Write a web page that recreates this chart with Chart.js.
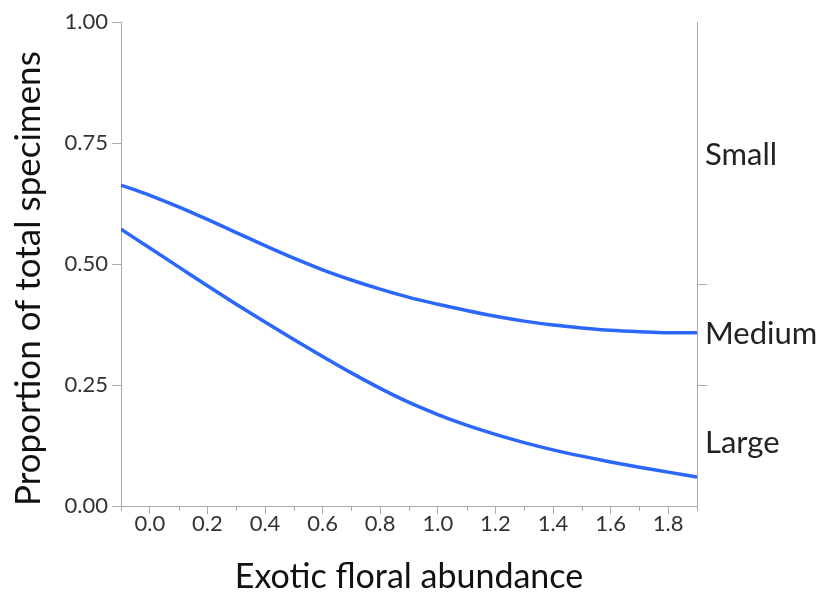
<!DOCTYPE html>
<html>
<head>
<meta charset="utf-8">
<script src="https://cdn.jsdelivr.net/npm/chart.js@4.4.1/dist/chart.umd.min.js"></script>
<style>
  html, body { margin: 0; padding: 0; background: #fff; }
  #wrap { width: 817px; height: 592px; }
</style>
</head>
<body>
<div id="wrap"><canvas id="chart"></canvas></div>
<script>
// exotic floral abundance (x) and the two cumulative proportion curves
const abundance = [-0.1, 0.0, 0.1, 0.2, 0.3, 0.4, 0.5, 0.6, 0.7, 0.8, 0.9,
                   1.0, 1.1, 1.2, 1.3, 1.4, 1.5, 1.6, 1.7, 1.8, 1.9];
const upperCurve = [0.663, 0.642, 0.618, 0.592, 0.565, 0.538, 0.512, 0.488, 0.467, 0.448, 0.431,
                    0.417, 0.404, 0.392, 0.382, 0.374, 0.368, 0.363, 0.360, 0.358, 0.358];
const lowerCurve = [0.572, 0.533, 0.494, 0.455, 0.417, 0.380, 0.344, 0.309, 0.275, 0.243, 0.214,
                    0.189, 0.167, 0.148, 0.131, 0.116, 0.103, 0.091, 0.080, 0.070, 0.060];

const xTicks = [0.0, 0.2, 0.4, 0.6, 0.8, 1.0, 1.2, 1.4, 1.6, 1.8];
const xMinorTicks = [-0.1, 0.1, 0.3, 0.5, 0.7, 0.9, 1.1, 1.3, 1.5, 1.7, 1.9];
const yTicks = [0, 0.25, 0.5, 0.75, 1.0];

// size classes on the right axis
const sizeLabels = ['Small', 'Medium', 'Large'];
const sizeLabelAt = [0.725, 0.355, 0.13];
const sizeBreaks = [0.457, 0.25];

const axisGray = '#aaaaaa';
const blue = '#2b67fb';
const fontFam = 'Lato, "Open Sans", sans-serif';

const toPoints = (ys) => abundance.map((x, i) => ({ x: x, y: ys[i] }));

// short minor ticks under the x axis
const minorTicks = {
  id: 'minorTicks',
  afterDraw(chart) {
    const sx = chart.scales.x;
    const c = chart.ctx;
    c.save();
    c.strokeStyle = axisGray;
    c.lineWidth = 1;
    xMinorTicks.forEach((v) => {
      const px = Math.round(sx.getPixelForValue(v)) + 0.5;
      c.beginPath();
      c.moveTo(px, sx.top);
      c.lineTo(px, sx.top + 5);
      c.stroke();
    });
    c.restore();
  }
};

const rightTicks = sizeLabelAt.map((v, i) => ({ value: v, label: sizeLabels[i] }))
  .concat(sizeBreaks.map((v) => ({ value: v, label: '' })));

new Chart(document.getElementById('chart'), {
  type: 'line',
  data: {
    datasets: [
      { data: toPoints(upperCurve), borderColor: blue, borderWidth: 3.5, pointRadius: 0, cubicInterpolationMode: 'monotone', fill: false },
      { data: toPoints(lowerCurve), borderColor: blue, borderWidth: 3.5, pointRadius: 0, cubicInterpolationMode: 'monotone', fill: false }
    ]
  },
  options: {
    responsive: true,
    maintainAspectRatio: false,
    animation: false,
    layout: { padding: { top: 22, left: 0, right: 0, bottom: 0 } },
    plugins: { legend: { display: false }, tooltip: { enabled: false } },
    scales: {
      x: {
        type: 'linear',
        min: -0.1,
        max: 1.9,
        afterBuildTicks: (scale) => { scale.ticks = xTicks.map((v) => ({ value: v })); },
        afterFit: (scale) => { scale.height = 86; },
        border: { color: axisGray, width: 1 },
        grid: { drawOnChartArea: false, color: axisGray, tickLength: 8 },
        ticks: {
          color: '#333',
          font: { family: fontFam, size: 22 },
          padding: -3,
          maxRotation: 0,
          callback: (v) => Number(v).toFixed(1)
        },
        title: {
          display: true,
          text: 'Exotic floral abundance',
          color: '#111',
          font: { family: fontFam, size: 34, lineHeight: 1 },
          padding: { top: 0, bottom: -2 }
        }
      },
      y: {
        position: 'left',
        min: 0,
        max: 1,
        afterBuildTicks: (scale) => { scale.ticks = yTicks.map((v) => ({ value: v })); },
        afterFit: (scale) => { scale.width = 121; },
        border: { color: axisGray, width: 1 },
        grid: { drawOnChartArea: false, color: axisGray, tickLength: 9 },
        ticks: {
          color: '#333',
          font: { family: fontFam, size: 22 },
          padding: 4,
          callback: (v) => Number(v).toFixed(2)
        },
        title: {
          display: true,
          align: 'start',
          text: 'Proportion of total specimens',
          color: '#111',
          font: { family: fontFam, size: 35, lineHeight: 1 },
          padding: { top: 11, bottom: 0 }
        }
      },
      y2: {
        position: 'right',
        min: 0,
        max: 1,
        afterBuildTicks: (scale) => { scale.ticks = rightTicks.map((t) => ({ value: t.value })); },
        afterFit: (scale) => { scale.width = 120; },
        border: { color: axisGray, width: 1 },
        grid: {
          drawOnChartArea: false,
          tickLength: 10,
          color: (ctx) => (ctx.tick && sizeBreaks.includes(ctx.tick.value)) ? axisGray : 'rgba(0,0,0,0)'
        },
        ticks: {
          color: '#222',
          font: { family: fontFam, size: 31 },
          padding: -2,
          callback: (v) => {
            const t = rightTicks.find((r) => r.value === v);
            return t ? t.label : '';
          }
        }
      }
    }
  },
  plugins: [minorTicks]
});
</script>
</body>
</html>
